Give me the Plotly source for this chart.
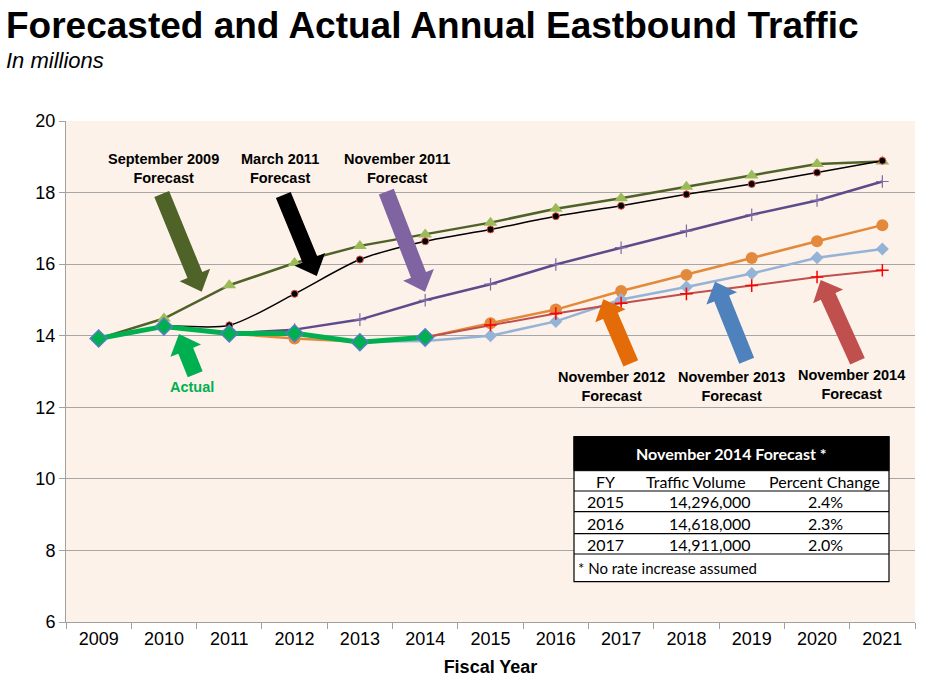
import plotly.graph_objects as go

#%% data (millions of vehicles)
years = ['2009', '2010', '2011', '2012', '2013', '2014', '2015',
         '2016', '2017', '2018', '2019', '2020', '2021']

sep2009 = [13.92, 14.48, 15.41, 16.03, 16.51, 16.83, 17.16, 17.55, 17.84, 18.16, 18.48, 18.80, 18.87]
mar2011 = [13.92, 14.26, 14.29, 15.17, 16.13, 16.64, 16.97, 17.34, 17.63, 17.95, 18.24, 18.56, 18.89]
nov2011 = [None, None, 14.06, 14.17, 14.45, 14.99, 15.44, 15.99, 16.46, 16.93, 17.38, 17.78, 18.31]
nov2012 = [None, None, 14.06, 13.92, 13.83, 13.95, 14.35, 14.73, 15.25, 15.70, 16.17, 16.64, 17.09]
nov2013 = [None, None, None, None, 13.83, 13.85, 14.00, 14.40, 15.01, 15.36, 15.74, 16.18, 16.42]
nov2014 = [None, None, None, None, None, 13.96, 14.30, 14.62, 14.91, 15.17, 15.40, 15.64, 15.83]
actual = [13.92, 14.26, 14.06, 14.07, 13.82, 13.96, None, None, None, None, None, None, None]

tbl_title = 'November 2014 Forecast *'
tbl_cols = ['FY', 'Traffic Volume', 'Percent Change']
tbl_fy = ['2015', '2016', '2017']
tbl_vol = ['14,296,000', '14,618,000', '14,911,000']
tbl_pct = ['2.4%', '2.3%', '2.0%']
tbl_note = '* No rate increase assumed'

#%% page geometry (pixels in the browser window) -> paper coords
# body margin is removed in the page (post_script), so figure = window
W, H = 931, 683
L, R, T, B = 66, 915, 121, 622

def px(x):
    return (x - L) / (R - L)

def py(y):
    return (B - y) / (B - T)

def arrow_path(tail, tip, w, hw, hl):
    # block arrow from tail centre to tip, sizes in pixels
    dx, dy = tip[0] - tail[0], tip[1] - tail[1]
    n = (dx ** 2 + dy ** 2) ** 0.5
    ux, uy = dx / n, dy / n
    nx, ny = -uy, ux
    neck = (tip[0] - ux * hl, tip[1] - uy * hl)
    pts = [
        (tail[0] + nx * w / 2, tail[1] + ny * w / 2),
        (neck[0] + nx * w / 2, neck[1] + ny * w / 2),
        (neck[0] + nx * hw / 2, neck[1] + ny * hw / 2),
        tip,
        (neck[0] - nx * hw / 2, neck[1] - ny * hw / 2),
        (neck[0] - nx * w / 2, neck[1] - ny * w / 2),
        (tail[0] - nx * w / 2, tail[1] - ny * w / 2),
    ]
    return 'M ' + ' L '.join('{0:.5f},{1:.5f}'.format(px(a), py(b)) for a, b in pts) + ' Z'

#%% figure
fig = go.Figure()
fig.add_trace(go.Scatter(x=years, y=sep2009, mode='lines+markers', name='September 2009 Forecast',
                         line=dict(color='#4F6228', width=2.5),
                         marker=dict(symbol='triangle-up', size=12, color='#9BBB59')))
fig.add_trace(go.Scatter(x=years, y=mar2011, mode='lines+markers', name='March 2011 Forecast',
                         line=dict(color='black', width=1.5, shape='spline', smoothing=0.8),
                         marker=dict(symbol='circle', size=7, color='black',
                                     line=dict(color='#E0504D', width=1))))
fig.add_trace(go.Scatter(x=years, y=nov2011, mode='lines+markers', name='November 2011 Forecast',
                         line=dict(color='#5F4A8B', width=2.5),
                         marker=dict(symbol='cross-thin', size=9, line=dict(color='#7F6BA6', width=1.2))))
fig.add_trace(go.Scatter(x=years, y=nov2012, mode='lines+markers', name='November 2012 Forecast',
                         line=dict(color='#E2893B', width=2.5),
                         marker=dict(symbol='circle', size=12, color='#E2893B')))
fig.add_trace(go.Scatter(x=years, y=nov2013, mode='lines+markers', name='November 2013 Forecast',
                         line=dict(color='#95B3D7', width=2.5),
                         marker=dict(symbol='diamond', size=10, color='#95B3D7')))
fig.add_trace(go.Scatter(x=years, y=nov2014, mode='lines+markers', name='November 2014 Forecast',
                         line=dict(color='#C0504D', width=2),
                         marker=dict(symbol='cross-thin', size=9, line=dict(color='#FF0000', width=1.5))))
fig.add_trace(go.Scatter(x=years, y=actual, mode='lines+markers', name='Actual',
                         line=dict(color='#00B050', width=5),
                         marker=dict(symbol='diamond', size=13, color='#00B050',
                                     line=dict(color='#4F81BD', width=1.5))))

#%% block arrows: (tail, tip, colour)
arrows = [
    ((161.7, 194.0), (201.7, 291.7), '#4F6228'),
    ((283.3, 195.0), (316.7, 276.0), 'black'),
    ((386.3, 191.7), (425.0, 291.7), '#8064A2'),
    ((195.2, 374.2), (179.0, 334.0), '#00B050'),
    ((630.8, 363.3), (603.3, 299.3), '#E36C09'),
    ((746.7, 360.8), (715.0, 281.7), '#4F81BD'),
    ((857.5, 361.2), (820.7, 280.0), '#C0504D'),
]
shapes = []
for tail, tip, col in arrows:
    shapes.append(dict(type='path', xref='paper', yref='paper', path=arrow_path(tail, tip, 16, 33, 18),
                       fillcolor=col, line=dict(width=0), layer='above'))

#%% table
rows_y = [436.7, 470.7, 491.0, 511.7, 533.7, 554.0, 581.7]
tx0, tx1 = 574, 889
shapes.append(dict(type='rect', xref='paper', yref='paper', x0=px(tx0), x1=px(tx1), y0=py(rows_y[-1]), y1=py(rows_y[0]),
                   fillcolor='white', line=dict(color='black', width=1.2), layer='above'))
shapes.append(dict(type='rect', xref='paper', yref='paper', x0=px(tx0), x1=px(tx1), y0=py(rows_y[1]), y1=py(rows_y[0]),
                   fillcolor='black', line=dict(color='black', width=1), layer='above'))
for yy in rows_y[2:-1]:
    shapes.append(dict(type='line', xref='paper', yref='paper', x0=px(tx0), x1=px(tx1), y0=py(yy), y1=py(yy),
                       line=dict(color='black', width=1.2), layer='above'))

annots = []
def add_text(text, x, y, size, color='black', bold=False, family='Liberation Sans, Arial', xanchor='center', italic=False):
    annots.append(dict(text=text, x=px(x), y=py(y), xref='paper', yref='paper', showarrow=False,
                       xanchor=xanchor, yanchor='middle', align='center', borderpad=0,
                       font=dict(size=size, color=color, family=family,
                                 weight='bold' if bold else 'normal',
                                 style='italic' if italic else 'normal')))

tf = 'Lato, Noto Sans, sans-serif'
add_text(tbl_title, 731.7, 453.5, 16, color='white', bold=True, family=tf)
add_text(tbl_cols[0], 605, 481, 16, family=tf)
add_text(tbl_cols[1], 696, 481, 16, family=tf)
add_text(tbl_cols[2], 824, 481, 16, family=tf)
for i, yy in enumerate([501.5, 523, 544]):
    add_text(tbl_fy[i], 605, yy, 16, family=tf)
    add_text(tbl_vol[i], 752, yy, 16, family=tf, xanchor='right')
    add_text(tbl_pct[i], 825, yy, 16, family=tf)
add_text(tbl_note, 577, 568, 15, family=tf, xanchor='left')

#%% arrow labels
add_text('September 2009<br>Forecast', 163.3, 168.5, 14.5, bold=True)
add_text('March 2011<br>Forecast', 280.0, 168.5, 14.5, bold=True)
add_text('November 2011<br>Forecast', 397.3, 168.5, 14.5, bold=True)
add_text('Actual', 191.7, 386.7, 14.5, color='#00B050', bold=True)
add_text('November 2012<br>Forecast', 611.7, 386.0, 14.5, bold=True)
add_text('November 2013<br>Forecast', 731.7, 386.0, 14.5, bold=True)
add_text('November 2014<br>Forecast', 851.7, 385.0, 14.5, bold=True)

#%% title + subtitle
add_text('Forecasted and Actual Annual Eastbound Traffic', 5, 25, 37, bold=True, xanchor='left')
add_text('In millions', 5, 61, 22, italic=True, xanchor='left')

fig.update_layout(
    autosize=False,
    width=W,
    height=H,
    margin=dict(l=L, r=W - R, t=T, b=H - B),
    paper_bgcolor='white',
    plot_bgcolor='#FDF2E9',
    showlegend=False,
    font=dict(family='Liberation Sans, Arial', size=18, color='black'),
    xaxis=dict(type='category', range=[-0.5, 12.5], showgrid=False, showline=True, linecolor='#A0A0A0',
               ticks='outside', tickson='boundaries', ticklen=6, tickcolor='#A0A0A0', automargin=False,
               title=dict(text='Fiscal Year', font=dict(size=18, weight='bold'), standoff=12)),
    yaxis=dict(range=[6, 20], dtick=2, showgrid=True, gridcolor='#A6A6A6', gridwidth=1,
               showline=True, linecolor='#A0A0A0', ticks='outside', ticklen=6, tickcolor='#A0A0A0',
               zeroline=False, automargin=False),
    shapes=shapes,
    annotations=annots,
)

fig.write_html("out.html", config={'displayModeBar': False},
               post_script="document.body.style.margin='0px'; document.body.style.overflow='hidden';")
